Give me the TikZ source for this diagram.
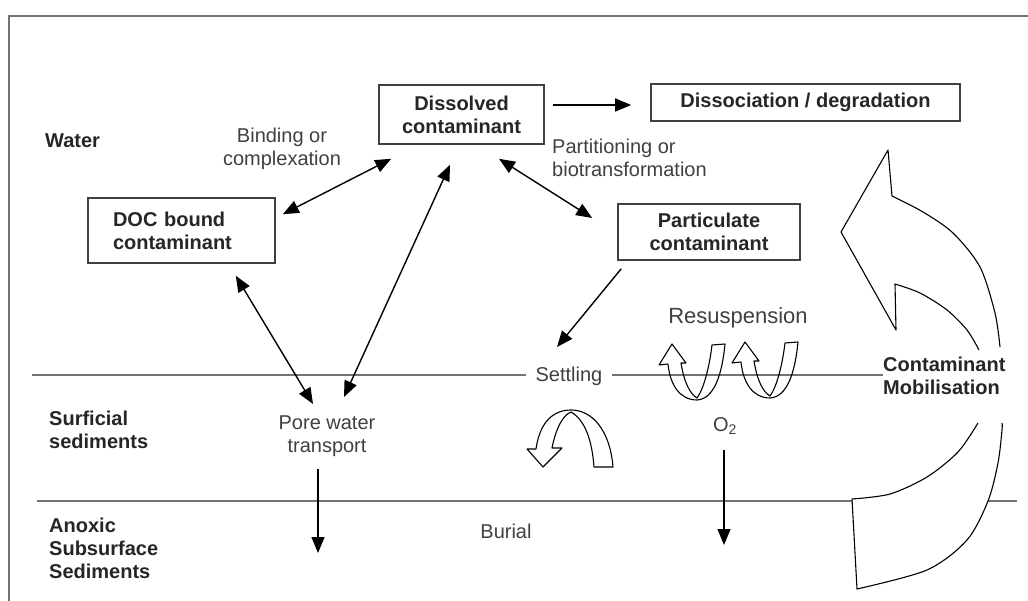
\documentclass[tikz,border=0pt]{standalone}
\usepackage{fontspec}
\setmainfont{Liberation Sans}
\usetikzlibrary{arrows.meta}
\begin{document}
\begin{tikzpicture}[x=1pt,y=-1pt,
  lab/.style={font=\fontsize{20}{23}\selectfont, text=black!75, inner sep=0pt},
  blab/.style={lab, font=\fontsize{20}{23}\selectfont\bfseries, text=black!85},
  box/.style={draw=black!75, line width=1.6pt, font=\fontsize{20}{23}\selectfont\bfseries, text=black!85, align=center, inner sep=0pt},
  layer/.style={draw=black!55, line width=2.4pt},
  conn/.style={line width=1.4pt, {Triangle[length=16pt,width=13pt]}-{Triangle[length=16pt,width=13pt]}},
  one/.style={line width=1.4pt, -{Triangle[length=16pt,width=13pt]}},
  hollow/.style={draw=black, line width=1.1pt, line join=round},
  resusp/.pic={
    \draw[hollow] (0,0) -- (14,19) -- (9,19) .. controls (12,38) and (18,50) .. (25,54)
      .. controls (31,46) and (37,26) .. (40,1) -- (53,0)
      .. controls (50,31) and (42,55) .. (25,56)
      .. controls (8,56) and (-2,41) .. (-4,20) -- (-13,21) -- cycle;
  }]
\useasboundingbox (0,0) rectangle (1028,601);
\fill[white] (0,0) rectangle (1028,601);
% frame
\draw[draw=black!55, line width=2pt] (1028,16) -- (9,16) -- (9,601);
% layer lines
\draw[layer] (32,375) -- (883,375);
\draw[layer] (37,501) -- (1017,501);

% boxes
\node[box, minimum width=165pt, minimum height=59pt] (diss) at (461.5,114.5) {Dissolved\\contaminant};
\node[box, minimum width=309pt, minimum height=37pt] (dissoc) at (805.5,102.5) {Dissociation / degradation};
\node[box, minimum height=65pt, align=left, text width=137pt, inner xsep=25pt] (doc) at (181.5,230.5) {DOC bound\\contaminant};
\node[box, minimum width=182pt, minimum height=56pt] (part) at (709,232) {Particulate\\contaminant};

% labels
\node[blab, anchor=west] (water) at (45,141) {Water};
\node[blab, anchor=west, align=left] (surf) at (49,430) {Surficial\\sediments};
\node[blab, anchor=west, align=left] (anox) at (49,548) {Anoxic\\Subsurface\\Sediments};
\node[lab, align=center] (bind) at (282,149) {Binding or\\complexation};
\node[lab, anchor=west, align=left] (partit) at (552,158) {Partitioning or\\biotransformation};
\node[lab, align=center] (pore) at (327,436) {Pore water\\transport};
\node[lab, fill=white, inner xsep=10pt] (settle) at (569,376) {Settling};
\node[lab, font=\fontsize{22}{26}\selectfont] (resus) at (738,318) {Resuspension};
\node[lab] (o2) at (725,426) {O\textsubscript{2}};
\node[lab] (burial) at (506,531) {Burial};
\node[blab, anchor=west, align=left] (mob) at (883,376) {Contaminant\\Mobilisation};

\coordinate (poreend) at (318,553);
\coordinate (o2end) at (724,545);

% connectors
\draw[one] ([shift={(8,-9.5)}]diss.east) -- ([shift={(-19,2.5)}]dissoc.west);
\draw[conn] ([shift={(7,17)}]doc.north east) -- ([shift={(13,14)}]diss.south west);
\draw[conn] ([shift={(-40,12)}]doc.south east) -- ([shift={(-14,-32)}]pore.center);
\draw[conn] ([shift={(17,-39)}]pore.center) -- ([shift={(-11.5,20)}]diss.south);
\draw[conn] ([shift={(37.5,14)}]diss.south) -- ([shift={(-25,-14)}]part.west);
\draw[one] ([shift={(4,8)}]part.south west) -- ([shift={(-12,-29)}]settle.center);
\draw[one] ([shift={(-9,33)}]pore.center) -- (poreend);
\draw[one] ([shift={(-1,24)}]o2.center) -- (o2end);

% resuspension arrows
\pic at (672,344) {resusp};
\pic at (745,342) {resusp};

% settling arrow
\draw[hollow] (543,467) -- (562,448) -- (552,448) .. controls (556,428) and (563,415) .. (571,412)
  .. controls (585,420) and (592,440) .. (594,467) -- (613,467)
  .. controls (610,430) and (592,410) .. (571,410)
  .. controls (555,410) and (540,420) .. (536,449) -- (527,449) -- cycle;

% big mobilisation arrow
\fill[white] plot[smooth] coordinates {(978,423) (958,452) (927,477) (890,494) (852,499)}
  -- plot[smooth] coordinates {(857,589) (927,570) (967,540) (988,501) (998,463) (1002,430) (1002,423)} -- cycle;
\draw[hollow] plot[smooth] coordinates {(978,423) (958,452) (927,477) (890,494) (852,499)}
  -- plot[smooth] coordinates {(857,589) (927,570) (967,540) (988,501) (998,463) (1002,430) (1002,423)};
\draw[hollow] plot[smooth] coordinates {(1000,347) (995,313) (980,267) (953,233) (923,212) (892,196)}
  -- (888,150) -- (841,232) -- (896,330)
  -- plot[smooth] coordinates {(895,284) (920,293) (947,310) (967,330) (979,350)};
\end{tikzpicture}
\end{document}
